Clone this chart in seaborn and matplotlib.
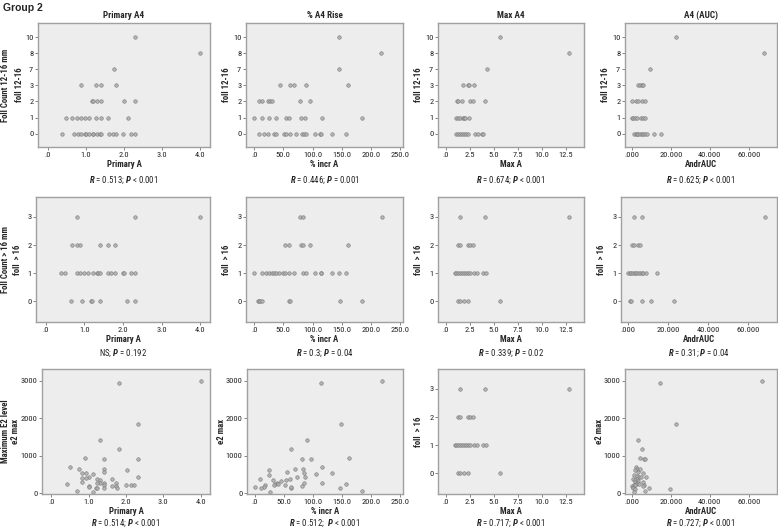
import numpy as np
import pandas as pd
import matplotlib
matplotlib.use("Agg")
import matplotlib.pyplot as plt
import seaborn as sns
from matplotlib import font_manager as fm

# ---------------- data ----------------
col_titles = ["Primary A4", "% A4 Rise", "Max A4", "A4 (AUC)"]
x_labels = ["Primary A", "% incr A", "Max A", "AndrAUC"]
row_labels = ["Foll Count 12-16 mm", "Foll Count > 16 mm", "Maximum E2 level"]

levels_1216 = [0, 1, 2, 3, 7, 8, 10]

r1c1 = {10: [2.3], 8: [4.0], 7: [1.74], 3: [0.88, 1.27, 1.39, 1.8],
        2: [1.15, 1.18, 1.29, 1.39, 1.99, 2.3],
        1: [0.48, 0.64, 0.77, 0.88, 0.98, 1.08, 1.27, 1.39, 1.58, 2.1],
        0: [0.37, 0.68, 0.79, 0.88, 0.98, 1.0, 1.08, 1.18, 1.2, 1.29, 1.36, 1.39,
            1.6, 1.71, 1.8, 1.97, 2.19, 2.3]}
r1c2 = {10: [146], 8: [217], 7: [146], 3: [44, 61, 69, 89, 161],
        2: [9, 14, 23, 27, 30, 79, 96],
        1: [0, 14, 26, 37, 54, 60, 80, 87, 116, 184],
        0: [8, 17, 23, 34, 38, 51, 55, 62, 71, 82, 85, 88, 105, 113, 114, 134, 157]}
r1c3 = {10: [5.7], 8: [12.8], 7: [4.3], 3: [1.85, 2.35, 2.45, 2.9],
        2: [1.2, 1.3, 1.68, 2.5, 2.8, 4.1],
        1: [1.1, 1.3, 1.5, 1.8, 1.95, 2.05, 2.45],
        0: [1.1, 1.3, 1.5, 1.7, 1.9, 2.1, 2.3, 3.0, 3.35, 3.8, 3.9]}
r1c4 = {10: [22.7], 8: [67.5], 7: [9.2], 3: [3.4, 4.2, 5.1, 5.8],
        2: [0.3, 2.0, 3.0, 5.4, 6.6],
        1: [0.0, 0.8, 1.7, 2.5, 4.7, 5.8, 6.6],
        0: [1.2, 2.0, 2.7, 3.4, 4.2, 5.0, 5.9, 6.8, 7.8, 11.4, 14.7]}

r2c1 = {3: [0.8, 2.3, 4.0], 2: [0.69, 0.8, 0.9, 1.4, 1.6, 1.8],
        1: [0.39, 0.5, 0.8, 0.9, 1.0, 1.1, 1.23, 1.34, 1.36, 1.4, 1.6, 1.7, 1.8,
            2.0, 2.02, 2.2, 2.3],
        0: [0.65, 0.95, 1.17, 1.2, 1.4, 2.1, 2.3]}
r2c2 = {3: [79, 83, 219], 2: [52, 60, 81, 83, 95, 161],
        1: [0, 14, 21, 25, 30, 34, 38, 42, 50, 52, 60, 69, 83, 88, 104, 114, 115,
            133, 146, 157],
        0: [6, 8, 10, 13, 60, 62, 147, 185]}
r2c3 = {3: [1.45, 4.1, 12.8], 2: [1.3, 1.45, 2.35, 2.55, 2.8],
        1: [0.95, 1.1, 1.3, 1.5, 1.7, 1.9, 2.1, 2.3, 2.5, 2.9, 3.3, 3.9, 4.2],
        0: [1.3, 1.5, 1.9, 2.3, 5.65]}
r2c4 = {3: [3.2, 6.8, 68.5], 2: [2.0, 2.9, 5.1, 5.9],
        1: [0.0, 1.0, 1.7, 2.5, 3.4, 4.2, 5.1, 5.9, 6.8, 7.6, 8.8, 14.7],
        0: [0.8, 1.7, 6.8, 11.4, 23.2]}

r3c1_x = [1.81, 2.32, 1.31, 1.81, 0.91, 1.42, 2.32, 0.51, 0.73, 1.42, 1.42, 0.81,
          0.92, 2.02, 1.02, 1.12, 0.81, 0.92, 0.81, 1.22, 1.31, 1.62, 2.32, 1.31,
          1.22, 1.42, 1.42, 1.42, 1.02, 1.0, 1.2, 1.22, 0.41, 1.63, 1.74, 1.72,
          1.77, 2.0, 2.13, 2.22, 0.69, 1.12, 4.0]
r3c1_y = [2940, 1860, 1410, 1180, 950, 915, 915, 700, 640, 650, 580, 550,
          550, 615, 445, 510, 420, 420, 310, 380, 355, 380, 430, 285,
          265, 285, 220, 150, 195, 160, 135, 150, 250, 205, 265, 205,
          150, 215, 215, 230, 70, 35, 3000]
r3c2_x = [113, 218, 148, 89, 62, 80, 97, 162, 69, 82, 116, 55, 84, 24, 24, 8,
          105, 133, 72, 86, 60, 53, 44, 30, 37, 35, 39, 32, 17, 15, 11, 0, 52,
          85, 81, 62, 62, 115, 157, 147, 185, 25]
r3c2_y = [2940, 3000, 1860, 1410, 1180, 915, 915, 950, 660, 640, 700, 560, 550,
          615, 490, 390, 515, 550, 430, 430, 390, 355, 320, 355, 285, 250, 250,
          220, 215, 180, 140, 180, 230, 285, 195, 135, 160, 265, 250, 140, 70, 45]
r3c4_x = [14.6, 66.7, 22.6, 3.4, 5.1, 4.3, 6.0, 6.7, 2.1, 2.9, 4.1, 3.4, 5.5, 1.7,
          1.2, 2.4, 3.8, 7.5, 4.8, 0.7, 2.4, 1.7, 3.1, 1.4, 2.9, 5.8, 2.1, 1.2,
          3.8, 6.2, 0.0, 0.7, 1.7, 8.9, 0.7, 1.4, 6.5, 19.7, 1.2, 5.5]
r3c4_y = [2940, 3000, 1860, 1410, 1180, 950, 915, 915, 700, 660, 640, 560, 550,
          610, 490, 460, 445, 430, 430, 390, 375, 355, 340, 300, 285, 300, 250,
          230, 250, 230, 195, 180, 215, 140, 140, 125, 70, 105, 35, 195]

captions = [
    [r"$\mathbf{R}$ = 0.513; $\mathbf{P}$ < 0.001", r"$\mathbf{R}$ = 0.446; $\mathbf{P}$ = 0.001",
     r"$\mathbf{R}$ = 0.674; $\mathbf{P}$ < 0.001", r"$\mathbf{R}$ = 0.625; $\mathbf{P}$ < 0.001"],
    [r"NS; $\mathbf{P}$ = 0.192", r"$\mathbf{R}$ = 0.3; $\mathbf{P}$ = 0.04",
     r"$\mathbf{R}$ = 0.339; $\mathbf{P}$ = 0.02", r"$\mathbf{R}$ = 0.31; $\mathbf{P}$ = 0.04"],
    [r"$\mathbf{R}$ = 0.514; $\mathbf{P}$ < 0.001", r"$\mathbf{R}$ = 0.512;  $\mathbf{P}$ < 0.001",
     r"$\mathbf{R}$ = 0.717; $\mathbf{P}$ < 0.001", r"$\mathbf{R}$ = 0.727; $\mathbf{P}$ < 0.001"],
]

x_ticks = [[0, 1, 2, 3, 4], [0, 50, 100, 150, 200, 250],
           [0, 2.5, 5, 7.5, 10, 12.5], [0, 20, 40, 60]]
x_ticklabels = [[".0", "1.0", "2.0", "3.0", "4.0"],
                [".0", "50.0", "100.0", "150.0", "200.0", "250.0"],
                [".0", "2.5", "5.0", "7.5", "10.0", "12.5"],
                [".000", "20.000", "40.000", "60.000"]]

# ---------------- style ----------------
sns.set_style("white")

FAM = "Liberation Sans"
prefs = ["Liberation Sans Narrow", "Arial Narrow", "Roboto Condensed",
         "Open Sans Condensed", "DejaVu Sans Condensed"]
names = {f.name for f in fm.fontManager.ttflist}
for p in prefs:
    if p in names:
        FAM = p
        break

plt.rcParams['font.family'] = [FAM, 'Liberation Sans', 'DejaVu Sans']
plt.rcParams['mathtext.fontset'] = 'custom'
plt.rcParams['mathtext.bf'] = f'{FAM}:bold:italic'
plt.rcParams['mathtext.rm'] = FAM
plt.rcParams['mathtext.it'] = f'{FAM}:italic'

W, H = 778, 531
fig = plt.figure(figsize=(W / 100, H / 100), dpi=100)
fig.patch.set_facecolor("white")

row_tb = [(23, 147), (197, 322), (369, 494)]
col_lr = [[(38, 210), (246, 403), (438, 584), (625, 777)],
          [(36, 210), (246, 403), (438, 584), (621, 777)],
          [(42, 210), (247, 403), (438, 584), (625, 777)]]
ylab_off = [[14, 15, 15, 15], [14, 15, 15, 15], [22, 21, 15, 21]]
xlims = [(-0.25, 4.25), (-14, 255), (-0.8, 14.4), (-3.5, 74.4)]

TICK_FS = 6
LAB_FS = 6.3


def dict_to_df(d, ordinal=False):
    xs, ys = [], []
    for lev, vals in d.items():
        for v in vals:
            xs.append(v)
            ys.append(levels_1216.index(lev) if ordinal else lev)
    return pd.DataFrame({"x": xs, "y": ys})


panels = [
    [dict_to_df(r1c1, True), dict_to_df(r1c2, True), dict_to_df(r1c3, True), dict_to_df(r1c4, True)],
    [dict_to_df(r2c1), dict_to_df(r2c2), dict_to_df(r2c3), dict_to_df(r2c4)],
    [pd.DataFrame({"x": r3c1_x, "y": r3c1_y}), pd.DataFrame({"x": r3c2_x, "y": r3c2_y}),
     dict_to_df(r2c3), pd.DataFrame({"x": r3c4_x, "y": r3c4_y})],
]
ylabels = [["foll 12-16"] * 4, ["foll  > 16"] * 4,
           ["e2 max", "e2 max", "foll  > 16", "e2 max"]]

for r in range(3):
    top, bot = row_tb[r]
    for c in range(4):
        left, right = col_lr[r][c]
        pw = right - left
        ax = fig.add_axes([left / W, 1 - bot / H, pw / W, (bot - top) / H])
        ax.set_facecolor("#EDEDED")
        df = panels[r][c]
        sns.scatterplot(data=df, x="x", y="y", ax=ax, s=6.5, color="#B0B0B0",
                        edgecolor="#767676", linewidth=0.45, alpha=0.9, legend=False)
        ax.set_xlim(*xlims[c])
        ax.set_xticks(x_ticks[c])
        ax.set_xticklabels(x_ticklabels[c])
        if r == 0:
            ax.set_ylim(-0.83, 6.875)
            ax.set_yticks(range(len(levels_1216)))
            ax.set_yticklabels([str(v) for v in levels_1216])
        elif r == 1 or (r == 2 and c == 2):
            ax.set_ylim(-0.73, 3.71)
            ax.set_yticks([0, 1, 2, 3])
            ax.set_yticklabels(["0", "1", "2", "3"])
        else:
            ax.set_ylim(-18, 3312)
            ax.set_yticks([0, 1000, 2000, 3000])
            ax.set_yticklabels(["0", "1000", "2000", "3000"])
        ax.tick_params(axis="both", which="both", length=2.2, width=0.6,
                       color="#707070", labelsize=TICK_FS, pad=1.2,
                       labelcolor="#222222", bottom=True, left=True)
        ax.set_xlabel(x_labels[c], fontsize=LAB_FS, fontweight="bold", labelpad=1.5)
        ax.set_ylabel(ylabels[r][c], fontsize=LAB_FS, fontweight="bold")
        ax.yaxis.set_label_coords(-ylab_off[r][c] / pw, 0.5)
        for sp in ax.spines.values():
            sp.set_visible(True)
            sp.set_color("#A0A0A0")
            sp.set_linewidth(1.0)
        cx = (left + right) / 2 / W
        cap_y = [180, 353, 523][r]
        fig.text(cx, 1 - cap_y / H, captions[r][c], ha="center", va="center",
                 fontsize=LAB_FS, color="#222222")
        if r == 0:
            fig.text(cx, 1 - 15 / H, col_titles[c], ha="center", va="center",
                     fontsize=6.6, fontweight="bold")
    fig.text(6 / W, 1 - (top + bot) / 2 / H, row_labels[r], rotation=90,
             ha="center", va="center", fontsize=LAB_FS, fontweight="bold")

fig.text(3 / W, 1 - 8 / H, "Group 2", ha="left", va="center", fontsize=7.5,
         fontweight="bold", family=["Liberation Sans", "DejaVu Sans"])

fig.savefig("out.png", dpi=100)
